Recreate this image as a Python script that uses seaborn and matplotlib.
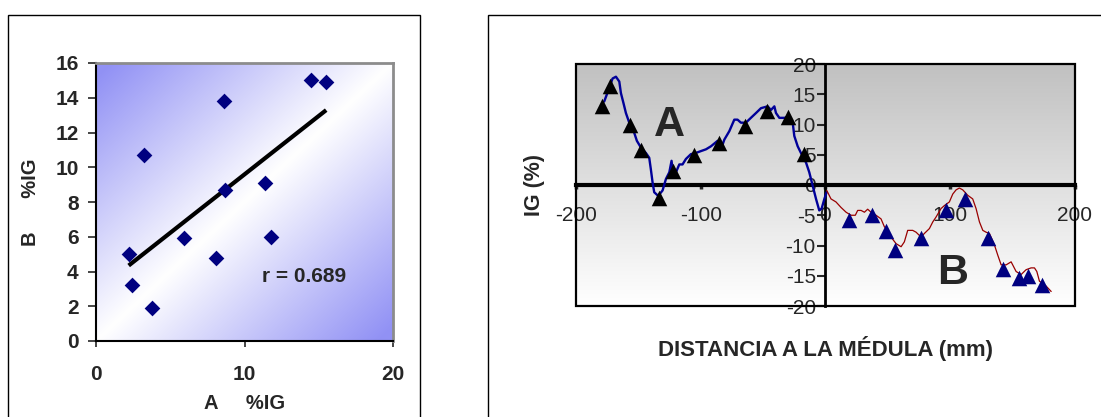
import numpy as np
import pandas as pd
import matplotlib
matplotlib.use("Agg")
import matplotlib.pyplot as plt
from matplotlib.patches import Rectangle
import seaborn as sns

# ---------------- data: left scatter ----------------
scatter_a = [2.2, 2.4, 3.8, 3.2, 5.9, 8.1, 8.6, 8.7, 11.4, 11.8, 14.5, 15.5]
scatter_b = [5.0, 3.2, 1.9, 10.7, 5.9, 4.8, 13.8, 8.7, 9.1, 6.0, 15.0, 14.9]
r_label = "r = 0.689"
left_xticks = [0, 10, 20]
left_yticks = [0, 2, 4, 6, 8, 10, 12, 14, 16]

# ---------------- data: right profile ----------------
line_a_x = [-177.4, -173.4, -170.7, -168.0, -165.3, -164.0, -161.9, -160.0, -157.3, -154.6,
            -152.8, -151.2, -148.0, -144.0, -141.3, -140.0, -138.6, -137.3, -134.1, -130.6,
            -127.9, -125.2, -123.4, -122.6, -119.9, -117.2, -114.6, -111.9, -107.9, -103.9,
            -99.9, -95.8, -91.8, -86.5, -83.8, -81.1, -77.1, -73.1, -70.5, -67.8,
            -63.8, -59.8, -55.7, -51.7, -46.4, -43.7, -41.0, -39.7, -37.0, -33.0,
            -29.0, -26.3, -25.0, -22.3, -19.7, -15.6, -13.0, -10.3, -7.6, -5.0,
            -3.1, -0.9, 0.9]
line_a_y = [13.8, 16.0, 17.6, 17.9, 17.1, 15.2, 13.5, 11.9, 10.3, 9.4,
            8.3, 7.3, 6.2, 5.3, 4.5, 2.6, 0.4, -1.2, -1.8, -0.9,
            1.0, 2.1, 4.0, 2.6, 2.1, 3.4, 3.4, 4.3, 5.1, 5.3,
            5.6, 5.9, 6.4, 7.3, 5.9, 7.5, 8.9, 10.8, 10.8, 10.3,
            10.3, 11.1, 11.9, 12.7, 13.0, 12.4, 13.0, 11.9, 11.1, 11.1,
            11.3, 10.3, 8.1, 6.4, 5.3, 3.7, 2.1, -0.1, -2.3, -4.2,
            -3.9, -2.3, -1.2]
marker_a_x = [-179.5, -172.8, -157.0, -148.0, -133.8, -122.6, -105.2, -85.7, -64.6, -46.9, -30.3, -17.0]
marker_a_y = [13.0, 16.3, 10.0, 5.8, -2.2, 2.3, 4.9, 7.0, 9.8, 12.2, 11.2, 5.1]

line_b_x = [1.0, 4.4, 8.4, 12.4, 16.5, 20.5, 23.9, 25.8, 28.5, 31.2,
            33.8, 36.5, 40.5, 44.5, 47.2, 49.9, 52.5, 56.6, 60.6, 63.2,
            65.9, 69.9, 72.6, 76.6, 79.3, 83.3, 86.0, 88.6, 92.6, 95.3,
            99.3, 102.0, 104.7, 107.3, 110.0, 114.0, 118.0, 120.7, 123.4, 126.1,
            128.7, 131.4, 135.4, 138.1, 140.8, 144.8, 148.8, 152.8, 156.8, 160.8,
            164.8, 167.5, 169.4, 171.5, 176.8, 180.9]
line_b_y = [-0.9, -2.3, -2.8, -3.7, -4.5, -5.0, -5.0, -4.2, -4.2, -4.5,
            -4.0, -4.5, -5.0, -5.6, -6.9, -7.5, -8.6, -9.7, -10.2, -9.4,
            -7.5, -7.5, -7.8, -8.6, -8.0, -7.2, -6.1, -5.3, -3.9, -3.4,
            -2.8, -1.5, -0.8, -0.5, -0.8, -1.7, -2.3, -3.9, -6.1, -7.5,
            -7.8, -8.0, -9.9, -11.6, -13.2, -13.2, -12.7, -14.3, -14.8, -14.0,
            -13.7, -13.7, -14.3, -15.9, -16.7, -17.6]
marker_b_x = [19.1, 37.3, 48.5, 55.5, 76.6, 96.7, 111.9, 130.1, 142.6, 155.5, 162.7, 173.4]
marker_b_y = [-5.8, -4.9, -7.6, -10.7, -8.8, -4.2, -2.3, -8.8, -13.9, -15.3, -15.1, -16.5]
right_xticks = [-200, -100, 0, 100, 200]
right_yticks = [-20, -15, -10, -5, 0, 5, 10, 15, 20]

df_sc = pd.DataFrame({"A": scatter_a, "B": scatter_b})
df_la = pd.DataFrame({"x": line_a_x, "y": line_a_y})
df_lb = pd.DataFrame({"x": line_b_x, "y": line_b_y})
df_ma = pd.DataFrame({"x": marker_a_x, "y": marker_a_y})
df_mb = pd.DataFrame({"x": marker_b_x, "y": marker_b_y})

sns.set_style("white")
plt.rcParams["font.family"] = ["Liberation Sans", "DejaVu Sans"]
plt.rcParams["axes.unicode_minus"] = False

W, H = 1101, 417
fig = plt.figure(figsize=(W / 100, H / 100), dpi=100)

# outer panel frames
fig.add_artist(Rectangle((8 / W, -0.1), (420 - 8) / W, 1 - 15 / H + 0.1,
                         transform=fig.transFigure, fill=False, lw=1.0,
                         edgecolor="black", clip_on=False))
fig.add_artist(Rectangle((488 / W, -0.1), 0.6, 1 - 15 / H + 0.1,
                         transform=fig.transFigure, fill=False, lw=1.0,
                         edgecolor="black", clip_on=False))

# ---------------- left panel ----------------
ax1 = fig.add_axes([96 / W, 1 - 341 / H, 297 / W, 278 / H])
n = 300
u = np.linspace(0, 1, n)
U, V = np.meshgrid(u, u)
t = np.clip(np.abs(V - U) * 1.05, 0, 1)[..., None]
blue = np.array([0.57, 0.57, 0.96])
white = np.array([1.0, 1.0, 1.0])
grad1 = white * (1 - t) + blue * t
ax1.imshow(grad1, extent=[0, 20, 0, 16], origin="lower", aspect="auto", zorder=0)

sns.regplot(data=df_sc, x="A", y="B", ax=ax1, scatter=False, ci=None,
            color="black", line_kws={"lw": 3.0, "solid_capstyle": "butt", "zorder": 3})
sns.scatterplot(data=df_sc, x="A", y="B", ax=ax1, marker="D", s=64,
                color="#000080", edgecolor="#000080", linewidth=0, zorder=4)
ax1.text(14.0, 3.7, r_label, ha="center", va="center", fontsize=15, fontweight="bold")

ax1.set_xlim(0, 20)
ax1.set_ylim(0, 16)
ax1.set_xticks(left_xticks)
ax1.set_yticks(left_yticks)
ax1.tick_params(axis="y", direction="out", length=5.5, width=1.2, pad=7,
                labelsize=15, left=True)
ax1.tick_params(axis="x", direction="out", length=4, width=1.2, pad=13,
                labelsize=15, bottom=True)
for lab in ax1.get_xticklabels() + ax1.get_yticklabels():
    lab.set_fontweight("bold")
for side in ["left", "bottom"]:
    ax1.spines[side].set_color("black")
    ax1.spines[side].set_linewidth(1.5)
for side in ["top", "right"]:
    ax1.spines[side].set_color("#8c8c8c")
    ax1.spines[side].set_linewidth(2.0)
ax1.set_xlabel("A     %IG", fontsize=14.5, fontweight="bold")
ax1.set_ylabel("B      %IG", fontsize=14.5, fontweight="bold")
ax1.xaxis.set_label_coords(0.5, -0.19)
ax1.yaxis.set_label_coords(-0.19, 0.5)

# ---------------- right panel ----------------
ax2 = fig.add_axes([576 / W, 1 - 306 / H, 499 / W, 242 / H])
g = np.linspace(1.0, 0.755, n)[:, None, None] * np.ones((1, 2, 3))
ax2.imshow(g, extent=[-200, 200, -20, 20], origin="lower", aspect="auto", zorder=0)

sns.lineplot(data=df_la, x="x", y="y", ax=ax2, color="#000099", lw=1.7,
             estimator=None, sort=False, zorder=3)
sns.lineplot(data=df_lb, x="x", y="y", ax=ax2, color="#990000", lw=0.9,
             estimator=None, sort=False, zorder=3)
sns.scatterplot(data=df_ma, x="x", y="y", ax=ax2, marker="^", s=125,
                color="black", edgecolor="black", linewidth=0, zorder=4)
sns.scatterplot(data=df_mb, x="x", y="y", ax=ax2, marker="^", s=125,
                color="#000080", edgecolor="#000080", linewidth=0, zorder=4)

ax2.text(-125, 10, "A", ha="center", va="center", fontsize=31, fontweight="bold", zorder=5)
ax2.text(102, -14.6, "B", ha="center", va="center", fontsize=31, fontweight="bold", zorder=5)

ax2.set_xlim(-200, 200)
ax2.set_ylim(-20, 20)
ax2.set_xticks(right_xticks)
ax2.set_yticks(right_yticks)
ax2.spines["left"].set_position(("data", 0))
ax2.spines["bottom"].set_position(("data", 0))
ax2.spines["top"].set_visible(False)
ax2.spines["right"].set_visible(False)
ax2.spines["left"].set_linewidth(2.0)
ax2.spines["bottom"].set_linewidth(3.0)
ax2.spines["left"].set_color("black")
ax2.spines["bottom"].set_color("black")
ax2.add_patch(Rectangle((0, 0), 1, 1, transform=ax2.transAxes, fill=False,
                        lw=1.6, edgecolor="black", zorder=6, clip_on=False))
ax2.tick_params(axis="x", direction="out", length=3, width=2.5, pad=12,
                labelsize=15, bottom=True)
ax2.tick_params(axis="y", direction="out", length=6, width=1.5, pad=1,
                labelsize=15, left=True)
ax2.set_xlabel("DISTANCIA A LA MÉDULA (mm)", fontsize=16, fontweight="bold")
ax2.set_ylabel("IG (%)", fontsize=15.5, fontweight="bold")
ax2.xaxis.set_label_coords(0.5, -0.125)
ax2.yaxis.set_label_coords(-0.062, 0.5)

fig.savefig("out.png", dpi=100)
